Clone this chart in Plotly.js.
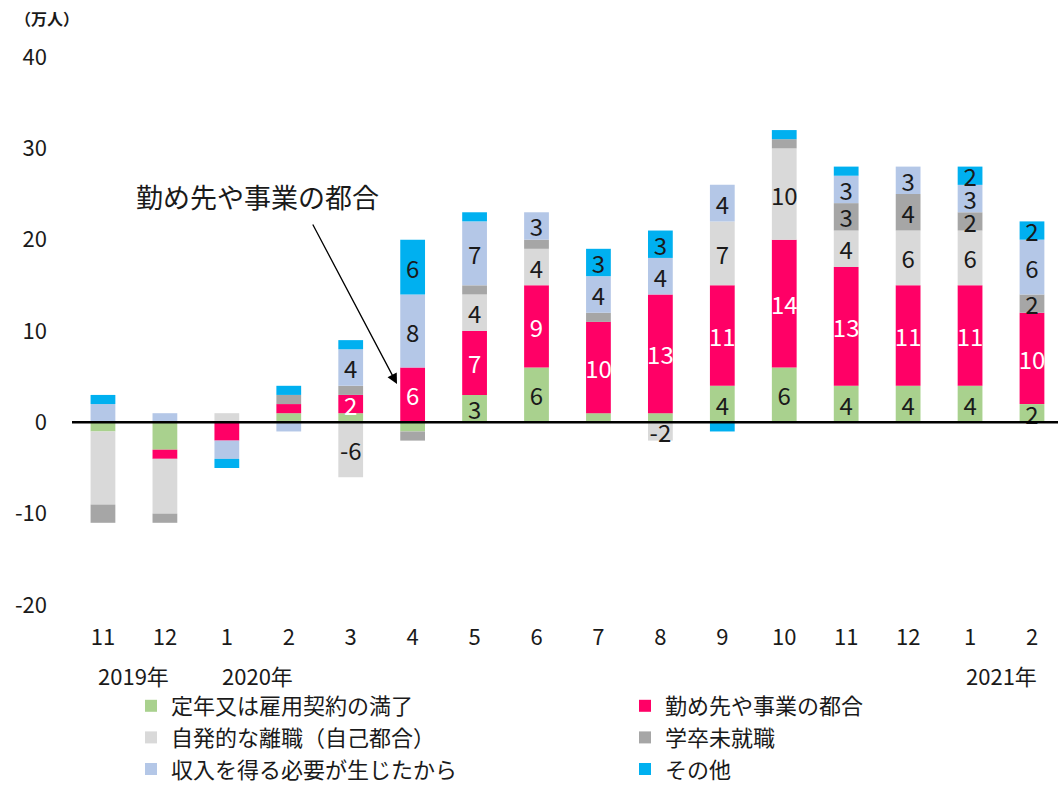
<!DOCTYPE html>
<html>
<head>
<meta charset="utf-8">
<script src="https://cdn.plot.ly/plotly-3.0.1.min.js"></script>
<style>
  html, body { margin: 0; padding: 0; background: #fff; }
  #chart { width: 1058px; height: 791px; }
</style>
</head>
<body>
<div id="chart"></div>
<script>
// ---- Data (万人, 前年同月差) ----
const months = ['11','12','1','2','3','4','5','6','7','8','9','10','11','12','1','2'];
const yearLabels = ['2019年','2020年','2021年'];
const yearStartIndex = [0, 2, 14];
const yTickVals = [-20, -10, 0, 10, 20, 30, 40];
const yTickText = ['-20', '-10', '0', '10', '20', '30', '40'];

const seriesNames = [
  '定年又は雇用契約の満了',
  '勤め先や事業の都合',
  '自発的な離職（自己都合）',
  '学卒未就職',
  '収入を得る必要が生じたから',
  'その他'
];
const teinen    = [-1,-3, 0, 1, 1,-1, 3, 6, 1, 1, 4, 6, 4, 4, 4, 2];
const kaisha    = [ 0,-1,-2, 1, 2, 6, 7, 9,10,13,11,14,13,11,11,10];
const jihatsu   = [-8,-6, 1, 0,-6, 0, 4, 4, 0,-2, 7,10, 4, 6, 6, 0];
const gakusotsu = [-2,-1, 0, 1, 1,-1, 1, 1, 1, 0, 0, 1, 3, 4, 2, 2];
const shunyu    = [ 2, 1,-2,-1, 4, 8, 7, 3, 4, 4, 4, 0, 3, 3, 3, 6];
const sonota    = [ 1, 0,-1, 1, 1, 6, 1, 0, 3, 3,-1, 1, 1, 0, 2, 2];
const annotationText = '勤め先や事業の都合';
const unitLabel = '（万人）';

// ---- Styling ----
const colors = ['#A9D18E', '#FF0066', '#D9D9D9', '#A6A6A6', '#B4C7E7', '#00B0F0'];
const textColors = ['#1a1a1a', '#ffffff', '#1a1a1a', '#1a1a1a', '#1a1a1a', '#1a1a1a'];
const legendOf = ['legend', 'legend2', 'legend', 'legend2', 'legend', 'legend2'];
const FONT = '"Noto Sans CJK JP", "Noto Sans", sans-serif';
const labelFrom = 4;   // data labels shown from 2020年3月 onwards
const minLabel = 2;    // only segments of |value| >= 2 are labelled

const allSeries = [teinen, kaisha, jihatsu, gakusotsu, shunyu, sonota];
const xIdx = months.map((m, i) => i);

const traces = allSeries.map((vals, k) => ({
  type: 'bar',
  name: seriesNames[k],
  legend: legendOf[k],
  legendgroup: 'g' + k,
  x: xIdx,
  y: vals,
  marker: { color: colors[k], line: { width: 0 } },
  text: vals.map((v, i) => (i >= labelFrom && Math.abs(v) >= minLabel) ? String(v) : ''),
  textposition: 'inside',
  insidetextanchor: 'middle',
  textangle: 0,
  constraintext: 'none',
  insidetextfont: { family: FONT, size: 24, color: textColors[k] },
  cliponaxis: false,
  hoverinfo: 'skip'
}));

// pixel helpers for paper placement
const W = 1058, H = 791;
const M = { l: 72, r: 0, t: 57, b: 186 };
const PW = W - M.l - M.r, PH = H - M.t - M.b;
const px = x => (x - M.l) / PW;
const py = y => (H - M.b - y) / PH;

const annotations = [
  { text: unitLabel, xref: 'paper', yref: 'paper', x: px(13), y: py(18),
    xanchor: 'left', yanchor: 'middle', showarrow: false,
    font: { family: FONT, size: 16, color: '#1a1a1a', weight: 'bold' } },
  { text: annotationText, xref: 'paper', yref: 'paper', x: px(257), y: py(196),
    xanchor: 'center', yanchor: 'middle', showarrow: false,
    font: { family: FONT, size: 27, color: '#1a1a1a' } },
  { text: '', xref: 'paper', yref: 'paper', x: px(397), y: py(384),
    ax: -85, ay: -161, showarrow: true, arrowhead: 2, arrowsize: 1.6,
    arrowwidth: 1.3, arrowcolor: '#000', standoff: 0 }
].concat(yearLabels.map((t, j) => ({
  text: t, xref: 'x', yref: 'paper', x: yearStartIndex[j] + 0.5, y: py(675),
  xanchor: 'center', yanchor: 'middle', showarrow: false,
  font: { family: FONT, size: 22, color: '#1a1a1a' }
})));

const legendBase = {
  orientation: 'v',
  yanchor: 'bottom',
  y: py(790),
  xanchor: 'left',
  traceorder: 'normal',
  tracegroupgap: 1,
  bgcolor: 'rgba(0,0,0,0)',
  font: { family: FONT, size: 22, color: '#1a1a1a' },
  itemclick: false, itemdoubleclick: false
};

const layout = {
  width: W, height: H,
  margin: M,
  paper_bgcolor: '#fff', plot_bgcolor: '#fff',
  barmode: 'relative',
  bargap: 0.6,
  font: { family: FONT, size: 21, color: '#1a1a1a' },
  showlegend: true,
  legend: Object.assign({}, legendBase, { x: px(131) }),
  legend2: Object.assign({}, legendBase, { x: px(625) }),
  xaxis: {
    range: [-0.5, 15.42],
    tickmode: 'array', tickvals: xIdx, ticktext: months,
    ticks: '', showline: false, showgrid: false, zeroline: false,
    ticklabelstandoff: 17,
    tickfont: { family: FONT, size: 22, color: '#1a1a1a' },
    fixedrange: true
  },
  yaxis: {
    range: [-20, 40],
    tickmode: 'array', tickvals: yTickVals, ticktext: yTickText,
    ticks: '', showline: false, showgrid: false, zeroline: false,
    ticklabelstandoff: 24,
    tickfont: { family: FONT, size: 22, color: '#1a1a1a' },
    fixedrange: true
  },
  shapes: [
    { type: 'line', xref: 'paper', yref: 'y', x0: 0, x1: 1, y0: 0, y1: 0,
      line: { color: '#000', width: 2.5 }, layer: 'above' }
  ],
  annotations: annotations
};

Plotly.newPlot('chart', traces, layout, { displayModeBar: false, staticPlot: true });
</script>
</body>
</html>
